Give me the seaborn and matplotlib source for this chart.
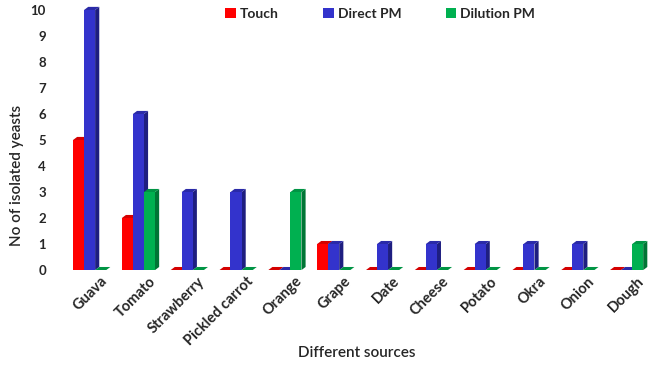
import matplotlib
matplotlib.use("Agg")
import matplotlib.pyplot as plt
from matplotlib.patches import Polygon
from matplotlib.transforms import ScaledTranslation
import seaborn as sns
import pandas as pd

sources = ["Guava", "Tomato", "Strawberry", "Pickled carrot", "Orange", "Grape",
           "Date", "Cheese", "Potato", "Okra", "Onion", "Dough"]
methods = ["Touch", "Direct PM", "Dilution PM"]
touch = [5, 2, 0, 0, 0, 1, 0, 0, 0, 0, 0, 0]
direct_pm = [10, 6, 3, 3, 0, 1, 1, 1, 1, 1, 1, 0]
dilution_pm = [0, 3, 0, 0, 3, 0, 0, 0, 0, 0, 0, 1]
y_ticks = list(range(0, 11))

front = {"Touch": "#FF0000", "Direct PM": "#3333CC", "Dilution PM": "#00B050"}
side = {"Touch": "#A80000", "Direct PM": "#1E1E80", "Dilution PM": "#007535"}
top = {"Touch": "#D40000", "Direct PM": "#2A2AA8", "Dilution PM": "#009444"}

df = pd.DataFrame({
    "source": sources * 3,
    "method": [m for m in methods for _ in sources],
    "count": touch + direct_pm + dilution_pm,
})

sns.set_theme(style="white")
plt.rcParams["font.family"] = ["Lato", "DejaVu Sans"]

fig = plt.figure(figsize=(6.5, 3.65), dpi=100)
ax = fig.add_axes([0.092, 0.26, 0.908, 0.734])

sns.barplot(data=df, x="source", y="count", hue="method", order=sources,
            hue_order=methods, palette=front, width=0.68, gap=0,
            saturation=1, linewidth=0, ax=ax, zorder=3)

ax.set_xlim(-0.61, 11.48)
ax.set_ylim(0, 10.3)

# pseudo-3D depth: side and top faces derived from each drawn bar
dx, dy = 0.085, 0.12
for method, container in zip(methods, ax.containers):
    for bar in container:
        x, w, h = bar.get_x(), bar.get_width(), bar.get_height()
        s = Polygon([(x + w, 0), (x + w + dx, dy), (x + w + dx, h + dy), (x + w, h)],
                    closed=True, facecolor=side[method], edgecolor="none", zorder=2)
        t = Polygon([(x, h), (x + dx, h + dy), (x + w + dx, h + dy), (x + w, h)],
                    closed=True, facecolor=top[method], edgecolor="none", zorder=2)
        ax.add_patch(s)
        ax.add_patch(t)

for sp in ax.spines.values():
    sp.set_visible(False)
ax.set_yticks(y_ticks)
ax.tick_params(axis="both", length=0)
ax.tick_params(axis="y", pad=10)
ax.tick_params(axis="x", pad=3)
for lab in ax.get_yticklabels():
    lab.set_fontweight("bold")
    lab.set_fontsize(9.5)

# rotated category labels, nudged so they end under the right part of each group
offset = ScaledTranslation(10 / 100, 0, fig.dpi_scale_trans)
for lab in ax.get_xticklabels():
    lab.set_fontweight("bold")
    lab.set_fontsize(10.5)
    lab.set_rotation(45)
    lab.set_ha("right")
    lab.set_rotation_mode("anchor")
    lab.set_transform(lab.get_transform() + offset)

ax.set_xlabel("Different sources", fontsize=11, fontweight="semibold")
ax.set_ylabel("No of isolated yeasts", fontsize=11, fontweight="semibold")
ax.xaxis.set_label_coords(0.503, -0.285)
ax.yaxis.set_label_coords(-0.061, 0.354)

handles, labels = ax.get_legend_handles_labels()
ax.get_legend().remove()
fig.legend(handles, labels, loc="center", bbox_to_anchor=(0.585, 0.963), ncol=3,
           frameon=False, handlelength=0.75, handleheight=0.75, handletextpad=0.3,
           columnspacing=3.2, prop={"weight": "bold", "size": 10})

fig.savefig("out.png", dpi=100)
